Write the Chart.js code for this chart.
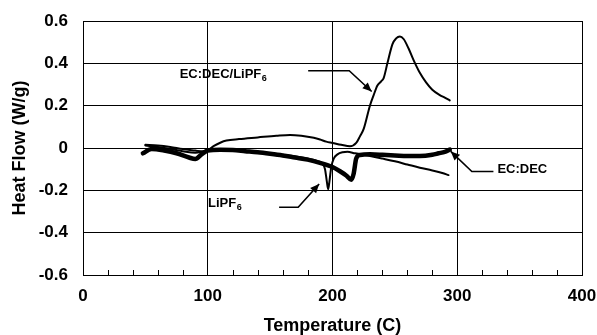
<!DOCTYPE html>
<html>
<head>
<meta charset="utf-8">
<script src="https://cdn.jsdelivr.net/npm/chart.js@4.4.1/dist/chart.umd.min.js"></script>
<style>
  html, body { margin: 0; padding: 0; background: #fff; }
  canvas { display: block; }
</style>
</head>
<body>
<canvas id="dscChart" width="597" height="335"></canvas>
<script>
// EC:DEC (thick trace)
const decTemp = [48, 55, 65, 75, 85, 90, 95, 100, 110, 120, 130, 140, 150, 160, 170, 180, 190, 200, 206, 211, 215, 217, 219, 222, 230, 240, 250, 260, 270, 280, 285, 290, 294];
const decFlow = [-0.025, -0.005, -0.012, -0.025, -0.045, -0.052, -0.03, -0.012, -0.008, -0.01, -0.015, -0.02, -0.027, -0.035, -0.045, -0.055, -0.07, -0.09, -0.11, -0.13, -0.15, -0.12, -0.05, -0.033, -0.03, -0.032, -0.035, -0.038, -0.038, -0.032, -0.025, -0.018, -0.008];

// LiPF6
const lipfTemp = [50, 60, 70, 80, 90, 95, 100, 110, 120, 130, 140, 150, 160, 170, 180, 188, 192, 194, 195.5, 196.5, 197.5, 199, 201, 204, 208, 212, 218, 225, 232, 240, 250, 260, 270, 280, 288, 293];
const lipfFlow = [0.012, 0.005, -0.005, -0.015, -0.022, -0.018, -0.01, -0.005, -0.008, -0.012, -0.018, -0.025, -0.032, -0.04, -0.05, -0.062, -0.075, -0.1, -0.16, -0.195, -0.16, -0.09, -0.05, -0.03, -0.02, -0.018, -0.025, -0.032, -0.04, -0.05, -0.063, -0.078, -0.093, -0.106, -0.118, -0.128];

// EC:DEC/LiPF6
const mixTemp = [50, 60, 70, 80, 90, 96, 100, 105, 110, 115, 125, 140, 155, 166, 175, 185, 190, 195, 200, 207, 214, 219, 222, 225, 230, 233, 236, 239, 241, 244, 248, 251, 254, 257, 261, 265, 270, 275, 280, 286, 290, 294];
const mixFlow = [0.015, 0.012, 0.005, -0.005, -0.012, -0.016, -0.01, 0.01, 0.025, 0.035, 0.042, 0.05, 0.058, 0.062, 0.058, 0.048, 0.04, 0.03, 0.024, 0.015, 0.008, 0.024, 0.055, 0.09, 0.2, 0.25, 0.295, 0.315, 0.33, 0.4, 0.49, 0.518, 0.527, 0.515, 0.47, 0.415, 0.355, 0.31, 0.275, 0.25, 0.238, 0.225];

const xTicks = [0, 100, 200, 300, 400];
const yTicks = [-0.6, -0.4, -0.2, 0, 0.2, 0.4, 0.6];

const FONT = '"Liberation Sans", Arial, Helvetica, sans-serif';

function toPoints(xs, ys) {
  return xs.map((x, i) => ({ x: x, y: ys[i] }));
}

// callouts: label text, subscript, label anchor (data units), arrow path (data units)
const callouts = [
  { text: 'EC:DEC/LiPF', sub: '6', at: [77.5, 0.347], path: [[180.5, 0.365], [213.4, 0.365], [231.4, 0.267]] },
  { text: 'LiPF', sub: '6', at: [100.2, -0.264], path: [[157.2, -0.28], [172.5, -0.28], [189.3, -0.17]] },
  { text: 'EC:DEC', sub: '', at: [332.2, -0.101], path: [[329, -0.111], [311.7, -0.111], [294.8, -0.016]] }
];

const decorPlugin = {
  id: 'decor',
  afterDatasetsDraw(chart) {
    const ctx = chart.ctx;
    const xs = chart.scales.x, ys = chart.scales.y;
    const area = chart.chartArea;
    ctx.save();
    // minor ticks on bottom axis, pointing up
    ctx.strokeStyle = '#000';
    ctx.lineWidth = 1;
    for (let t = 20; t < 400; t += 20) {
      if (t % 100 === 0) continue;
      const px = Math.round(xs.getPixelForValue(t)) + 0.5;
      ctx.beginPath();
      ctx.moveTo(px, area.bottom);
      ctx.lineTo(px, area.bottom - 5);
      ctx.stroke();
    }
    // callouts
    callouts.forEach(c => {
      ctx.fillStyle = '#000';
      ctx.font = 'bold 13px ' + FONT;
      ctx.textBaseline = 'middle';
      ctx.textAlign = 'left';
      const lx = xs.getPixelForValue(c.at[0]);
      const ly = ys.getPixelForValue(c.at[1]);
      ctx.fillText(c.text, lx, ly);
      if (c.sub) {
        const w = ctx.measureText(c.text).width;
        ctx.font = 'bold 9px ' + FONT;
        ctx.fillText(c.sub, lx + w + 0.5, ly + 3.5);
      }
      const pts = c.path.map(p => [xs.getPixelForValue(p[0]), ys.getPixelForValue(p[1])]);
      ctx.lineWidth = 1.6;
      ctx.beginPath();
      ctx.moveTo(pts[0][0], pts[0][1]);
      for (let i = 1; i < pts.length; i++) ctx.lineTo(pts[i][0], pts[i][1]);
      ctx.stroke();
      const a = pts[pts.length - 2], b = pts[pts.length - 1];
      const ang = Math.atan2(b[1] - a[1], b[0] - a[0]);
      const len = 9, half = 4;
      ctx.beginPath();
      ctx.moveTo(b[0], b[1]);
      ctx.lineTo(b[0] - len * Math.cos(ang) + half * Math.sin(ang), b[1] - len * Math.sin(ang) - half * Math.cos(ang));
      ctx.lineTo(b[0] - len * Math.cos(ang) - half * Math.sin(ang), b[1] - len * Math.sin(ang) + half * Math.cos(ang));
      ctx.closePath();
      ctx.fill();
    });
    ctx.restore();
  }
};

new Chart(document.getElementById('dscChart').getContext('2d'), {
  type: 'line',
  data: {
    datasets: [
      { label: 'EC:DEC/LiPF6', data: toPoints(mixTemp, mixFlow), borderColor: '#000', borderWidth: 2 },
      { label: 'LiPF6', data: toPoints(lipfTemp, lipfFlow), borderColor: '#000', borderWidth: 2 },
      { label: 'EC:DEC', data: toPoints(decTemp, decFlow), borderColor: '#000', borderWidth: 4.5 }
    ]
  },
  options: {
    responsive: false,
    animation: false,
    layout: { padding: { left: 0, right: 15, top: 21, bottom: 0 } },
    elements: {
      point: { radius: 0 },
      line: { cubicInterpolationMode: 'monotone', fill: false, borderJoinStyle: 'round', borderCapStyle: 'round' }
    },
    plugins: {
      legend: { display: false },
      tooltip: { enabled: false }
    },
    scales: {
      x: {
        type: 'linear',
        min: 0,
        max: 400,
        afterBuildTicks(scale) { scale.ticks = xTicks.map(v => ({ value: v })); },
        afterFit(scale) {
          scale.height = 60;
          scale.paddingLeft = 0;
          scale.paddingRight = 0;
        },
        ticks: {
          padding: 11,
          color: '#000',
          font: { family: FONT, size: 17, weight: 'bold' },
          maxRotation: 0,
          autoSkip: false
        },
        grid: { color: '#000', lineWidth: 1, drawTicks: false },
        border: { color: '#000', width: 1 },
        title: {
          display: true,
          text: 'Temperature (C)',
          color: '#000',
          font: { family: FONT, size: 18, weight: 'bold', lineHeight: 1 },
          padding: { top: 0, bottom: 0 }
        }
      },
      y: {
        min: -0.6,
        max: 0.6,
        afterBuildTicks(scale) { scale.ticks = yTicks.map(v => ({ value: v })); },
        afterFit(scale) {
          scale.width = 83;
          scale.paddingTop = 0;
          scale.paddingBottom = 0;
        },
        ticks: {
          padding: 15,
          color: '#000',
          font: { family: FONT, size: 17, weight: 'bold' },
          callback: v => (Math.abs(v) < 1e-9 ? '0' : (Math.round(v * 10) / 10).toFixed(1))
        },
        grid: { color: '#000', lineWidth: 1, drawTicks: false },
        border: { color: '#000', width: 1 },
        title: {
          display: true,
          text: 'Heat Flow (W/g)',
          color: '#000',
          font: { family: FONT, size: 18, weight: 'bold', lineHeight: 1 },
          padding: { top: 11, bottom: 0 }
        }
      }
    }
  },
  plugins: [decorPlugin]
});
</script>
</body>
</html>
